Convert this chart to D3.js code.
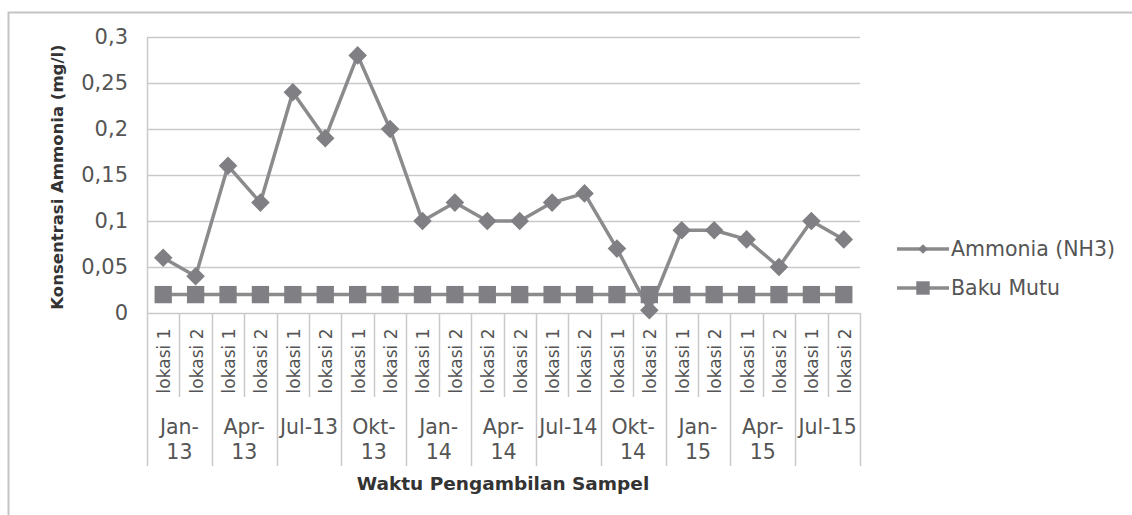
<!DOCTYPE html>
<html>
<head>
<meta charset="UTF-8">
<title>Konsentrasi Ammonia</title>
<script src="https://d3js.org/d3.v7.min.js"></script>
<style>
  body { margin: 0; background: #fff; }
  svg { display: block; font-family: "DejaVu Sans", "Open Sans", sans-serif; }
</style>
</head>
<body>
<svg id="chart" width="1132" height="515"></svg>
<script>
// data
var lokasi = ["lokasi 1","lokasi 2","lokasi 1","lokasi 2","lokasi 1","lokasi 2","lokasi 1","lokasi 2",
              "lokasi 1","lokasi 2","lokasi 2","lokasi 2","lokasi 1","lokasi 2","lokasi 1","lokasi 2",
              "lokasi 1","lokasi 2","lokasi 1","lokasi 2","lokasi 1","lokasi 2"];
var periode = [["Jan-","13"],["Apr-","13"],["Jul-13"],["Okt-","13"],["Jan-","14"],["Apr-","14"],
               ["Jul-14"],["Okt-","14"],["Jan-","15"],["Apr-","15"],["Jul-15"]];
var ammonia = [0.06,0.04,0.16,0.12,0.24,0.19,0.28,0.20,0.10,0.12,0.10,0.10,0.12,0.13,0.07,0.003,
               0.09,0.09,0.08,0.05,0.10,0.08];
var bakuMutu = [0.02,0.02,0.02,0.02,0.02,0.02,0.02,0.02,0.02,0.02,0.02,0.02,0.02,0.02,0.02,0.02,
                0.02,0.02,0.02,0.02,0.02,0.02];
var yTicks = [0,0.05,0.1,0.15,0.2,0.25,0.3];
var seriesNames = ["Ammonia (NH3)", "Baku Mutu"];

var svg = d3.select("#chart");
var lineColor = "#8b8b8e", markColor = "#808084", gridColor = "#c9c9cc";
var tickText = "#555", titleText = "#333";

// frame (cropped chart border)
svg.append("path")
  .attr("d", "M8.5,515 V12.5 H1132")
  .attr("fill", "none").attr("stroke", "#c4c4c6").attr("stroke-width", 2);

var idx = d3.range(lokasi.length);
var x = d3.scaleBand().domain(idx).range([147, 860]);
var y = d3.scaleLinear().domain([0, 0.3]).range([313, 37]);
var cx = function(i) { return x(i) + x.bandwidth() / 2; };

// gridlines
svg.append("g").selectAll("line").data(yTicks).enter().append("line")
  .attr("x1", 147).attr("x2", 860)
  .attr("y1", function(d) { return Math.round(y(d)) + 0.5; })
  .attr("y2", function(d) { return Math.round(y(d)) + 0.5; })
  .attr("stroke", gridColor).attr("stroke-width", 1.5);

// y axis line
svg.append("line").attr("x1", 147.5).attr("x2", 147.5).attr("y1", y(0.3)).attr("y2", 313)
  .attr("stroke", gridColor).attr("stroke-width", 1.5);

// y tick labels
var fmt = function(d) { return String(+d.toFixed(2)).replace(".", ","); };
svg.append("g").selectAll("text").data(yTicks).enter().append("text")
  .attr("x", 128).attr("y", function(d) { return y(d); })
  .attr("dy", "0.35em").attr("text-anchor", "end")
  .attr("fill", tickText).style("font-size", "21px")
  .text(fmt);

// x category separators
svg.append("g").selectAll("line").data(d3.range(lokasi.length + 1)).enter().append("line")
  .attr("x1", function(i) { return Math.round(147 + i * x.bandwidth()) + 0.5; })
  .attr("x2", function(i) { return Math.round(147 + i * x.bandwidth()) + 0.5; })
  .attr("y1", 313)
  .attr("y2", function(i) { return i % 2 === 0 ? 466 : 397; })
  .attr("stroke", gridColor).attr("stroke-width", 1.5);

// lokasi labels (rotated)
svg.append("g").selectAll("text").data(lokasi).enter().append("text")
  .attr("transform", function(d, i) { return "translate(" + (cx(i) + 1) + ",361) rotate(-90)"; })
  .attr("text-anchor", "middle").attr("dy", "0.35em")
  .attr("fill", tickText).style("font-size", "17px")
  .text(function(d) { return d; });

// periode labels
var pg = svg.append("g").selectAll("text").data(periode).enter().append("text")
  .attr("text-anchor", "middle").attr("fill", tickText).style("font-size", "20.5px")
  .attr("x", function(d, i) { return 147 + (i * 2 + 1) * x.bandwidth(); })
  .attr("y", 434);
pg.selectAll("tspan").data(function(d) { return d; }).enter().append("tspan")
  .attr("x", function() { return d3.select(this.parentNode).attr("x"); })
  .attr("dy", function(d, i) { return i === 0 ? 0 : 25; })
  .text(function(d) { return d; });

// axis titles
svg.append("text").attr("x", 503).attr("y", 490).attr("text-anchor", "middle")
  .attr("fill", titleText).style("font-weight", "bold").style("font-size", "18.5px")
  .text("Waktu Pengambilan Sampel");
svg.append("text").attr("transform", "translate(57,177) rotate(-90)")
  .attr("text-anchor", "middle").attr("dy", "0.35em")
  .attr("fill", titleText).style("font-weight", "bold").style("font-size", "16.5px")
  .text("Konsentrasi Ammonia (mg/l)");

// lines
var line = d3.line().x(function(d, i) { return cx(i); }).y(function(d) { return y(d); });
svg.append("path").datum(bakuMutu).attr("d", line)
  .attr("fill", "none").attr("stroke", lineColor).attr("stroke-width", 3.5);
svg.append("path").datum(ammonia).attr("d", line)
  .attr("fill", "none").attr("stroke", lineColor).attr("stroke-width", 3.5).attr("stroke-linejoin", "round");

var square = d3.symbol().type(d3.symbolSquare).size(300);
var diamond = d3.symbol().type(d3.symbolDiamond2).size(220);

svg.append("g").selectAll("path").data(bakuMutu).enter().append("path")
  .attr("d", square)
  .attr("transform", function(d, i) { return "translate(" + cx(i) + "," + y(d) + ")"; })
  .attr("fill", markColor);
svg.append("g").selectAll("path").data(ammonia).enter().append("path")
  .attr("d", diamond)
  .attr("transform", function(d, i) { return "translate(" + cx(i) + "," + y(d) + ")"; })
  .attr("fill", markColor);

// legend
var leg = svg.append("g").selectAll("g").data(seriesNames).enter().append("g")
  .attr("transform", function(d, i) { return "translate(897," + (249 + i * 39) + ")"; });
leg.append("line").attr("x1", 0).attr("x2", 52).attr("stroke", lineColor).attr("stroke-width", 3.5);
leg.append("path")
  .attr("d", function(d, i) { return i === 0 ? d3.symbol().type(d3.symbolDiamond2).size(60)() : d3.symbol().type(d3.symbolSquare).size(180)(); })
  .attr("transform", "translate(26,0)").attr("fill", markColor);
leg.append("text").attr("x", 54).attr("dy", "0.35em")
  .attr("fill", tickText).style("font-size", "20.5px")
  .text(function(d) { return d; });
</script>
</body>
</html>
